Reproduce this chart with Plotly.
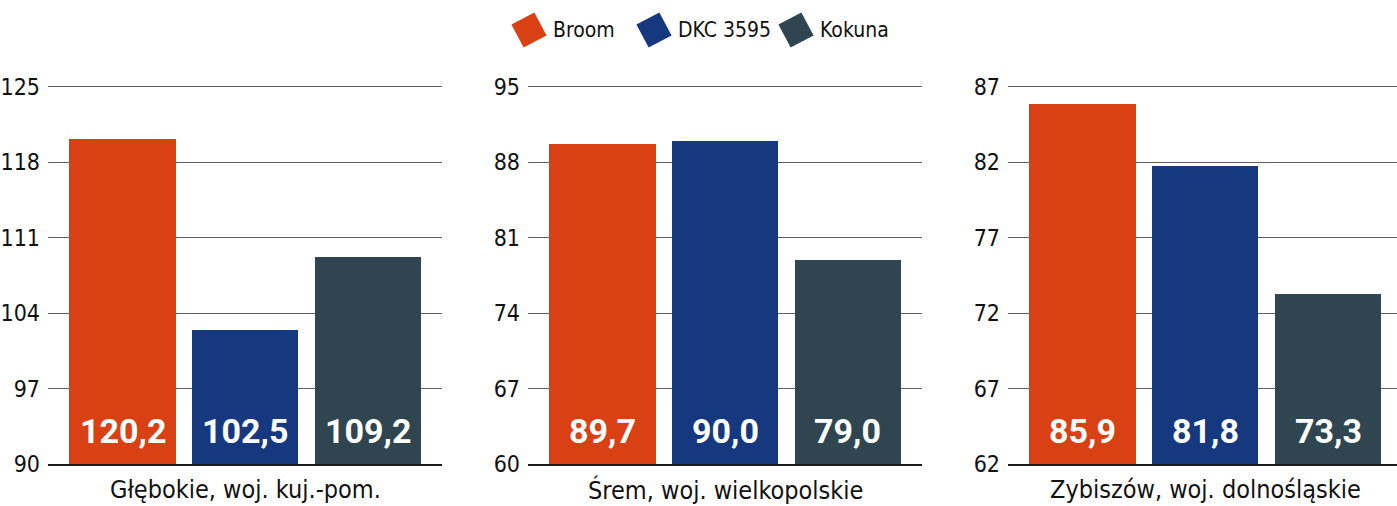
import plotly.graph_objects as go

# ---------------- data ----------------
varieties = ["Broom", "DKC 3595", "Kokuna"]
colors = ["#D94115", "#15387F", "#2F4650"]
locations = ["Głębokie, woj. kuj.-pom.", "Śrem, woj. wielkopolskie", "Zybiszów, woj. dolnośląskie"]
values_glebokie = [120.2, 102.5, 109.2]
values_srem = [89.7, 90.0, 79.0]
values_zybiszow = [85.9, 81.8, 73.3]
ticks_glebokie = [90, 97, 104, 111, 118, 125]
ticks_srem = [60, 67, 74, 81, 88, 95]
ticks_zybiszow = [62, 67, 72, 77, 82, 87]

panels = [
    (locations[0], values_glebokie, ticks_glebokie),
    (locations[1], values_srem, ticks_srem),
    (locations[2], values_zybiszow, ticks_zybiszow),
]

# ---------------- layout constants ----------------
W, H = 1397, 506
FONT = "DejaVu Sans Condensed, Liberation Sans Narrow, sans-serif"
BOLD_FONT = "Roboto, DejaVu Sans Condensed, sans-serif"
TXT = "#111111"
x_domains = [[48 / W, 442 / W], [528 / W, 922 / W], [1008 / W, 1.0]]
x_ranges = [[-0.607, 2.603], [-0.607, 2.603], [-0.607, 2.562]]
TOP_PAD = 0.006  # small headroom so the top gridline is drawn
y_domain = [1 - 464 / H, 1 - (87 - 377 * TOP_PAD) / H]
BAR_W = 0.864
LEGEND_X = [529, 654, 796]

fig = go.Figure()
annotations = []

for i, (loc, vals, ticks) in enumerate(panels):
    n = i + 1
    xa = "x" if n == 1 else f"x{n}"
    ya = "y" if n == 1 else f"y{n}"
    span = ticks[-1] - ticks[0]
    fig.add_trace(go.Bar(
        x=varieties, y=vals,
        marker=dict(color=colors, line=dict(width=0)),
        width=BAR_W, xaxis=xa, yaxis=ya, showlegend=False,
        hoverinfo="x+y",
    ))
    fig.layout[f"xaxis{'' if n == 1 else n}"] = dict(
        domain=x_domains[i], range=x_ranges[i], type="category",
        categoryorder="array", categoryarray=varieties,
        showticklabels=False, showgrid=False, zeroline=False,
        showline=True, linecolor="#1a1a1a", linewidth=1.5,
        anchor=ya, fixedrange=True, automargin=False,
    )
    fig.layout[f"yaxis{'' if n == 1 else n}"] = dict(
        domain=y_domain, range=[ticks[0], ticks[-1] + span * TOP_PAD],
        tickmode="array", tickvals=ticks, ticktext=[str(t) for t in ticks],
        showgrid=True, gridcolor="#5f5f5f", gridwidth=1.3,
        zeroline=False, showline=False, ticks="",
        ticklabelstandoff=7,
        tickfont=dict(family=FONT, size=23, color=TXT),
        anchor=xa, fixedrange=True, automargin=False,
    )
    # value labels inside bars, near the base
    for v, val in zip(varieties, vals):
        annotations.append(dict(
            x=v, y=ticks[0], xref=xa, yref=ya, yanchor="middle",
            yshift=33, showarrow=False,
            text=f"{val:.1f}".replace(".", ","),
            font=dict(family=BOLD_FONT, size=34, color="white", weight="bold"),
        ))
    # panel title below
    annotations.append(dict(
        x=varieties[1], y=0, xref=xa, yref=f"{ya} domain",
        yanchor="top", yshift=-9, showarrow=False, text=loc,
        font=dict(family=FONT, size=25, color=TXT),
    ))

# custom legend (rotated squares)
fig.add_trace(go.Scatter(
    x=LEGEND_X, y=[0.5, 0.5, 0.5], mode="markers",
    marker=dict(symbol="square", size=26, angle=-28, color=colors, line=dict(width=0)),
    xaxis="x4", yaxis="y4", showlegend=False, hoverinfo="skip",
))
for lx, name in zip(LEGEND_X, varieties):
    annotations.append(dict(
        x=lx + 22, y=0.5, xref="x4", yref="y4", xanchor="left", yanchor="middle",
        showarrow=False, text=name, font=dict(family=FONT, size=21, color=TXT),
    ))
fig.layout["xaxis4"] = dict(domain=[0, 1], range=[0, W], visible=False,
                            fixedrange=True, anchor="y4", automargin=False)
fig.layout["yaxis4"] = dict(domain=[1 - 60 / H, 1], range=[0, 1], visible=False,
                            fixedrange=True, anchor="x4", automargin=False)

fig.update_layout(
    template="none",
    width=W, height=H,
    margin=dict(l=0, r=0, t=0, b=0, pad=0),
    paper_bgcolor="white", plot_bgcolor="white",
    barmode="overlay", bargap=0,
    annotations=annotations,
    showlegend=False,
    font=dict(family=FONT, color=TXT),
)

fig.write_html(
    "out.html",
    config={"displayModeBar": False},
    post_script="document.body.style.margin='0';document.body.style.overflow='hidden';",
)
